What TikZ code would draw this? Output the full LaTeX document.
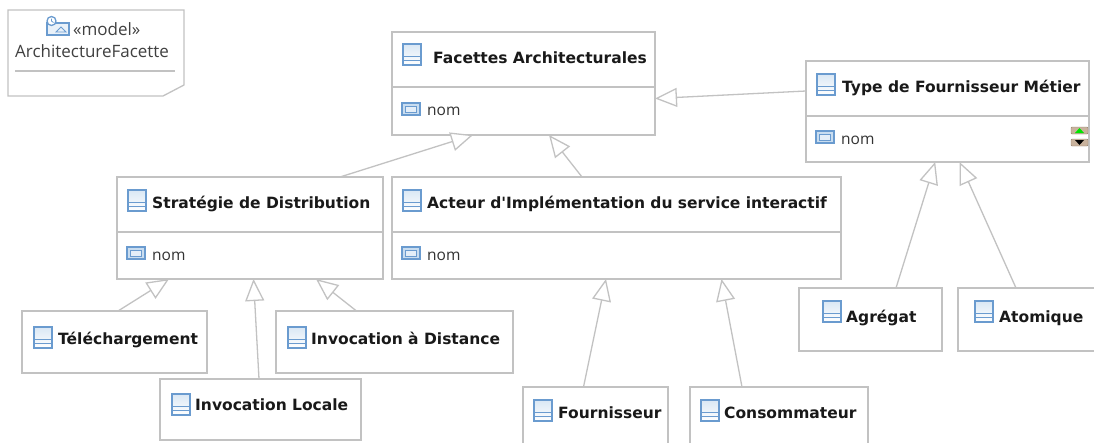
\documentclass[tikz,border=0pt]{standalone}
\usepackage{fontspec}
\setmainfont{Open Sans}
\newfontfamily\classfont{DejaVu Sans}
\usetikzlibrary{arrows.meta,shadings}
\definecolor{boxgray}{HTML}{C2C2C2}
\definecolor{iconblue}{HTML}{6A9BCF}
\definecolor{iconpale}{HTML}{C9DDF0}
\tikzset{
  classbox/.style={draw=boxgray,line width=1.3pt,fill=white,anchor=north west,inner sep=0pt,outer sep=0pt},
  classname/.style={anchor=base west,inner sep=0pt,font=\classfont\fontsize{15.5}{18}\selectfont\bfseries,text=black!90},
  attrname/.style={anchor=base west,inner sep=0pt,font=\fontsize{15.5}{18}\selectfont,text=black!80},
  modeltext/.style={anchor=base west,inner sep=0pt,font=\fontsize{17}{18}\selectfont,text=black!75},
  generalization/.style={draw=boxgray,line width=1.3pt,-{Triangle[length=22pt,width=19pt,fill=white,line width=1.3pt]}},
  classicon/.pic={
    \shade[top color=iconpale!70,bottom color=white,draw=iconblue,line width=1.2pt] (0,0) rectangle (18,21);
    \draw[iconblue,line width=1pt] (0,12) -- (18,12) (0,16.5) -- (18,16.5);
  },
  attricon/.pic={
    \draw[draw=iconblue,fill=iconpale,line width=1.3pt] (0,0) rectangle (18,12);
    \draw[draw=iconblue,fill=iconpale!50,line width=.8pt] (3.5,3) rectangle (14.5,9);
  },
  modelicon/.pic={
    \draw[draw=iconblue,fill=iconpale!40,line width=1.3pt] (0,7) rectangle (22,19);
    \draw[draw=iconblue,line width=.8pt] (9,16) -- (14,11) -- (19,16) -- cycle;
    \draw[draw=iconblue,fill=white,line width=1.3pt] (4.5,5) circle (4.5pt);
    \draw[draw=iconblue,line width=.8pt] (4.5,2.5) -- (4.5,5) -- (6.5,6.5);
  },
  stepperup/.pic={
    \draw[draw=gray!70!brown,fill=gray!45!brown!60,rounded corners=1pt] (0,0) rectangle (17,7);
    \fill[green!90!black] (4,6) -- (8.5,1) -- (13,6) -- cycle;
  },
  stepperdown/.pic={
    \draw[draw=gray!70!brown,fill=gray!45!brown!60,rounded corners=1pt] (0,0) rectangle (17,7);
    \fill[black] (4,1) -- (8.5,6) -- (13,1) -- cycle;
  }
}
\begin{document}
\begin{tikzpicture}[x=1pt,y=-1pt]
  \useasboundingbox (0,0) rectangle (1094,442);
  \clip (0,0) rectangle (1094,442);
  \fill[white] (0,0) rectangle (1094,442);
  \draw[draw=boxgray,line width=1.3pt] (8,10) -- (184,10) -- (184,85) -- (163,96) -- (8,96) -- cycle;
  \draw[draw=boxgray,line width=1.3pt] (15,71) -- (175,71);
  \pic at (47,16) {modelicon};
  \node[modeltext] (modelstereo) at (73,35) {«model»};
  \node[modeltext] (modelname) at (15,57) {ArchitectureFacette};
  \draw
    (392,32) node[classbox,minimum width=263pt,minimum height=103pt] (facettes){}
    (806,61) node[classbox,minimum width=283pt,minimum height=101pt] (type){}
    (117,177) node[classbox,minimum width=266pt,minimum height=102pt] (strategie){}
    (392,177) node[classbox,minimum width=449pt,minimum height=102pt] (acteur){}
    (22,311) node[classbox,minimum width=185pt,minimum height=62pt] (telechargement){}
    (160,379) node[classbox,minimum width=201pt,minimum height=61pt] (locale){}
    (276,311) node[classbox,minimum width=237pt,minimum height=62pt] (distance){}
    (523,387) node[classbox,minimum width=145pt,minimum height=80pt] (fournisseur){}
    (690,387) node[classbox,minimum width=178pt,minimum height=80pt] (consommateur){}
    (799,288) node[classbox,minimum width=143pt,minimum height=63pt] (agregat){}
    (958,288) node[classbox,minimum width=152pt,minimum height=63pt] (atomique){};
  \begin{scope}[draw=boxgray,line width=1.3pt]
    \draw ([yshift=-55pt]facettes.north west) -- ([yshift=-55pt]facettes.north east);
    \draw ([yshift=-55pt]type.north west) -- ([yshift=-55pt]type.north east);
    \draw ([yshift=-55pt]strategie.north west) -- ([yshift=-55pt]strategie.north east);
    \draw ([yshift=-55pt]acteur.north west) -- ([yshift=-55pt]acteur.north east);
  \end{scope}
  \begin{scope}[generalization]
    \draw ([yshift=20.5pt]type.west) to ([yshift=-15pt]facettes.east);
    \draw ([xshift=90pt]strategie.north) to ([xshift=-50.5pt]facettes.south);
    \draw ([xshift=-34.5pt]acteur.north) to ([xshift=25.5pt]facettes.south);
    \draw ([xshift=3.5pt]telechargement.north) to ([xshift=-81pt]strategie.south);
    \draw ([xshift=-1.5pt]locale.north) to ([xshift=3.5pt]strategie.south);
    \draw ([xshift=-38pt]distance.north) to ([xshift=66pt]strategie.south);
    \draw ([xshift=-12pt]fournisseur.north) to ([xshift=-10.5pt]acteur.south);
    \draw ([xshift=-37pt]consommateur.north) to ([xshift=105pt]acteur.south);
    \draw ([xshift=25.5pt]agregat.north) to ([xshift=-12.3pt]type.south);
    \draw ([xshift=-18pt]atomique.north) to ([xshift=12pt]type.south);
  \end{scope}
  \pic at (403,44) {classicon};
  \pic at (817,74) {classicon};
  \pic at (128,190) {classicon};
  \pic at (403,190) {classicon};
  \pic at (34,327) {classicon};
  \pic at (172,394) {classicon};
  \pic at (288,327) {classicon};
  \pic at (534,400) {classicon};
  \pic at (701,400) {classicon};
  \pic at (823,301) {classicon};
  \pic at (975,301) {classicon};
  \pic at (402,103) {attricon};
  \pic at (816,131) {attricon};
  \pic at (127,247) {attricon};
  \pic at (402,247) {attricon};
  \pic at (1071,127) {stepperup};
  \pic at (1071,139) {stepperdown};
  \node[classname] (facettesname) at (433,63) {Facettes Architecturales};
  \node[attrname] (facettesattr) at (427,115) {nom};
  \node[classname] (typename) at (842,92) {Type de Fournisseur Métier};
  \node[attrname] (typeattr) at (841,144) {nom};
  \node[classname] (strategiename) at (152,208) {Stratégie de Distribution};
  \node[attrname] (strategieattr) at (152,260) {nom};
  \node[classname] (acteurname) at (427,208) {Acteur d\symbol{39}Implémentation du service interactif};
  \node[attrname] (acteurattr) at (427,260) {nom};
  \node[classname] (telechargementname) at (58,344) {Téléchargement};
  \node[classname] (localename) at (195,410) {Invocation Locale};
  \node[classname] (distancename) at (311,344) {Invocation à Distance};
  \node[classname] (fournisseurname) at (558,418) {Fournisseur};
  \node[classname] (consommateurname) at (724,418) {Consommateur};
  \node[classname] (agregatname) at (846,322) {Agrégat};
  \node[classname] (atomiquename) at (999,322) {Atomique};
\end{tikzpicture}
\end{document}
